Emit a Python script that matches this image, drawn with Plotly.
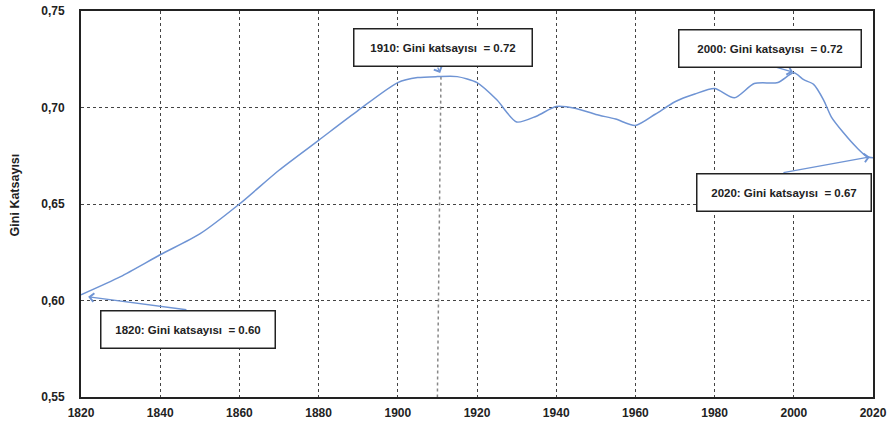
import plotly.graph_objects as go

# Gini katsayısı, 1820-2020 (okunan değerler)
yillar = [1820, 1830, 1840, 1850, 1860, 1870, 1880, 1890, 1900, 1905, 1910, 1915, 1920,
          1925, 1930, 1935, 1940, 1945, 1950, 1955, 1960, 1965, 1970, 1975, 1980, 1985,
          1990, 1996, 2000, 2002.5, 2005, 2007.5, 2009.5, 2012.5, 2016, 2018.5, 2020]
gini = [0.603, 0.6124, 0.6237, 0.6345, 0.650, 0.6675, 0.683, 0.6985, 0.7129, 0.7155, 0.716,
        0.716, 0.7129, 0.704, 0.6925, 0.6955, 0.7005, 0.6995, 0.6964, 0.694, 0.6907, 0.6965,
        0.703, 0.707, 0.7098, 0.705, 0.7124, 0.713, 0.718, 0.7144, 0.712, 0.704, 0.695,
        0.687, 0.679, 0.6745, 0.674]

# kutu metinleri ve konumları
kutu_metin = ["1910: Gini katsayısı  = 0.72", "2000: Gini katsayısı  = 0.72",
              "2020: Gini katsayısı  = 0.67", "1820: Gini katsayısı  = 0.60"]
kutu_x = [1911.4, 1993.9, 1997.4, 1847.1]
kutu_y = [0.7311, 0.7306, 0.656, 0.5852]
kutu_w = [175, 179, 171, 171]

# oklar: kuyruk -> uç
ok_kuyruk_x = [1909.9, 1995.3, 1997.0, 1847.0]
ok_kuyruk_y = [0.7215, 0.721, 0.6661, 0.5951]
ok_uc_x = [1910.7, 1999.8, 2019.2, 1821.8]
ok_uc_y = [0.7179, 0.7184, 0.6744, 0.6019]

# 1910 dikey işaret çizgisi
isaret_x = [1910.9, 1910.0]
isaret_y = [0.716, 0.55]

cizgi_renk = "#6f94d4"
yazi = "Liberation Sans, Arial"

fig = go.Figure()
fig.add_trace(go.Scatter(x=yillar, y=gini, mode="lines",
                         line=dict(color=cizgi_renk, width=1.5, shape="spline", smoothing=0.7),
                         hoverinfo="skip", showlegend=False))

fig.add_shape(type="line", x0=isaret_x[0], y0=isaret_y[0], x1=isaret_x[1], y1=isaret_y[1],
              xref="x", yref="y", line=dict(color="#888", width=1.5, dash="dot"), layer="below")

for i in range(4):
    fig.add_annotation(x=ok_uc_x[i], y=ok_uc_y[i], ax=ok_kuyruk_x[i], ay=ok_kuyruk_y[i],
                       xref="x", yref="y", axref="x", ayref="y", text="",
                       showarrow=True, arrowhead=4, arrowsize=1.3, arrowwidth=1.3,
                       arrowcolor=cizgi_renk)

for i in range(4):
    fig.add_annotation(x=kutu_x[i], y=kutu_y[i], xref="x", yref="y", text="<b>" + kutu_metin[i] + "</b>",
                       showarrow=False, width=kutu_w[i], height=34, borderpad=1,
                       bgcolor="white", bordercolor="#222", borderwidth=1.5,
                       font=dict(family=yazi, size=11.5, color="#222"))

# eksen başlığı
fig.add_annotation(x=-0.083, y=0.523, xref="paper", yref="paper", text="<b>Gini Katsayısı</b>",
                   textangle=-90, showarrow=False, xanchor="center", yanchor="middle",
                   font=dict(family=yazi, size=12.5, color="#222"))

fig.update_layout(
    width=894, height=424,
    margin=dict(l=81, r=21, t=11, b=27),
    paper_bgcolor="white", plot_bgcolor="white",
    separators=",.",
    font=dict(family=yazi, size=11, color="#222"),
    showlegend=False,
)
fig.update_xaxes(range=[1820, 2020], tickvals=list(range(1820, 2021, 20)), automargin=False,
                 showgrid=True, gridcolor="#444", griddash="dot", gridwidth=1,
                 showline=True, linecolor="#222", linewidth=2, mirror=True,
                 zeroline=False, ticks="", ticklabelstandoff=4,
                 tickfont=dict(size=12, family=yazi, weight="bold"))
fig.update_yaxes(range=[0.55, 0.75], tickvals=[0.55, 0.60, 0.65, 0.70, 0.75], tickformat=".2f",
                 automargin=False,
                 showgrid=True, gridcolor="#444", griddash="dot", gridwidth=1,
                 showline=True, linecolor="#222", linewidth=2, mirror=True,
                 zeroline=False, ticks="", ticklabelstandoff=12,
                 tickfont=dict(size=12, family=yazi, weight="bold"))

fig.write_html("out.html", config={"displayModeBar": False},
               post_script="document.body.style.margin='0';document.body.style.overflow='hidden';")
